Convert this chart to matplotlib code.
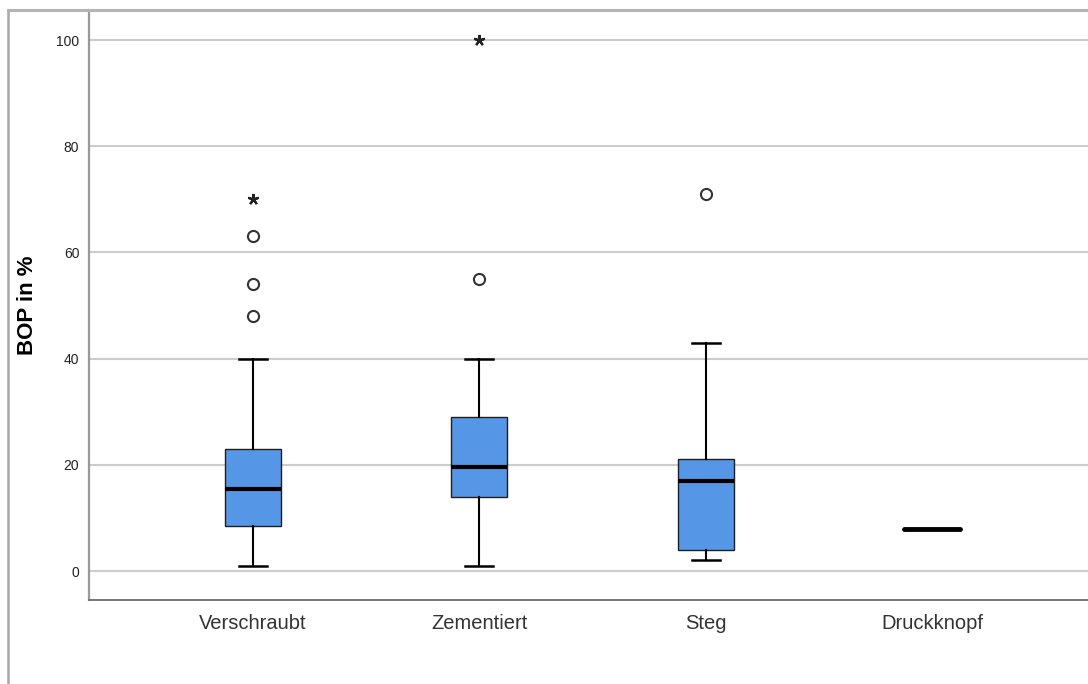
import matplotlib
matplotlib.use("Agg")
import matplotlib.pyplot as plt
from matplotlib.lines import Line2D

plt.rcParams['font.family'] = ['Liberation Sans', 'DejaVu Sans']

# Box plot summaries of BOP (%) per retention type
categories = ["Verschraubt", "Zementiert", "Steg", "Druckknopf"]
whisker_low = [1, 1, 2, 8]
q1 = [8.5, 14, 4, 8]
median = [15.5, 19.5, 17, 8]
q3 = [23, 29, 21, 8]
whisker_high = [40, 40, 43, 8]
outliers = [[48, 54, 63], [55], [71], []]
extremes = [[70], [100], [], []]
yticks = [0, 20, 40, 60, 80, 100]

BOX_COLOR = "#5596E6"

fig = plt.figure(figsize=(10.88, 6.84), dpi=100)
ax = fig.add_axes([89 / 1088, 84 / 684, 1 - 89 / 1088, (600 - 10) / 684])

positions = list(range(len(categories)))

ax.set_ylim(-5.46, 105.65)
ax.set_xlim(-0.724, 3.687)

for yt in yticks:
    ax.axhline(yt, color="#cccccc", lw=1.5, zorder=0)

stats = []
for i in range(3):
    stats.append(dict(med=median[i], q1=q1[i], q3=q3[i],
                      whislo=whisker_low[i], whishi=whisker_high[i],
                      fliers=[], label=categories[i]))

ax.bxp(stats, positions=positions[:3], widths=0.247, capwidths=0.124,
       showfliers=False, patch_artist=True,
       boxprops=dict(facecolor=BOX_COLOR, edgecolor="#1f1f1f", linewidth=1.0),
       medianprops=dict(color="black", linewidth=3.0, solid_capstyle="butt"),
       whiskerprops=dict(color="black", linewidth=1.5),
       capprops=dict(color="black", linewidth=1.8),
       zorder=3)

# Single-value group: only the median bar is visible
ax.bxp([dict(med=median[3], q1=q1[3], q3=q3[3], whislo=whisker_low[3],
             whishi=whisker_high[3], fliers=[], label=categories[3])],
       positions=[positions[3]], widths=0.247, showcaps=False,
       showfliers=False, patch_artist=True,
       boxprops=dict(facecolor=BOX_COLOR, edgecolor="black", linewidth=1.0),
       medianprops=dict(color="black", linewidth=3.5, solid_capstyle="round"),
       whiskerprops=dict(color="black", linewidth=0),
       zorder=3)

for pos, vals in zip(positions, outliers):
    if vals:
        ax.plot([pos] * len(vals), vals, linestyle="none", marker="o",
                markersize=8, markerfacecolor="white",
                markeredgecolor="#333333", markeredgewidth=1.5, zorder=4)
for pos, vals in zip(positions, extremes):
    if vals:
        ax.plot([pos] * len(vals), vals, linestyle="none", marker=(5, 2, 0),
                markersize=8, markeredgewidth=1.6, color="#222222", zorder=4)

ax.set_xticks(positions)
ax.set_xticklabels(categories, fontsize=14.5, color="#333333")
ax.set_yticks(yticks)
ax.set_yticklabels([str(v) for v in yticks], fontsize=10, color="#222222")
ax.tick_params(axis="both", length=0)
ax.tick_params(axis="x", pad=10)
ax.tick_params(axis="y", pad=7)

ax.set_ylabel("BOP in %", fontsize=16, fontweight="bold", color="black",
              labelpad=0)
ax.yaxis.set_label_coords((38 - 89) / (1088 - 89), 0.5)

for side in ("top", "right"):
    ax.spines[side].set_visible(False)
ax.spines["left"].set_color("#999999")
ax.spines["left"].set_linewidth(1.6)
ax.spines["bottom"].set_color("#777777")
ax.spines["bottom"].set_linewidth(1.4)

# Outer chart frame (left and top edges)
fig.add_artist(Line2D([8 / 1088, 8 / 1088], [0, 1 - 10 / 684],
                      transform=fig.transFigure, color="#a8a8a8", lw=1.8))
fig.add_artist(Line2D([8 / 1088, 1], [1 - 10 / 684, 1 - 10 / 684],
                      transform=fig.transFigure, color="#b4b4b4", lw=2.2))

fig.savefig("out.png", dpi=100, facecolor="white")
